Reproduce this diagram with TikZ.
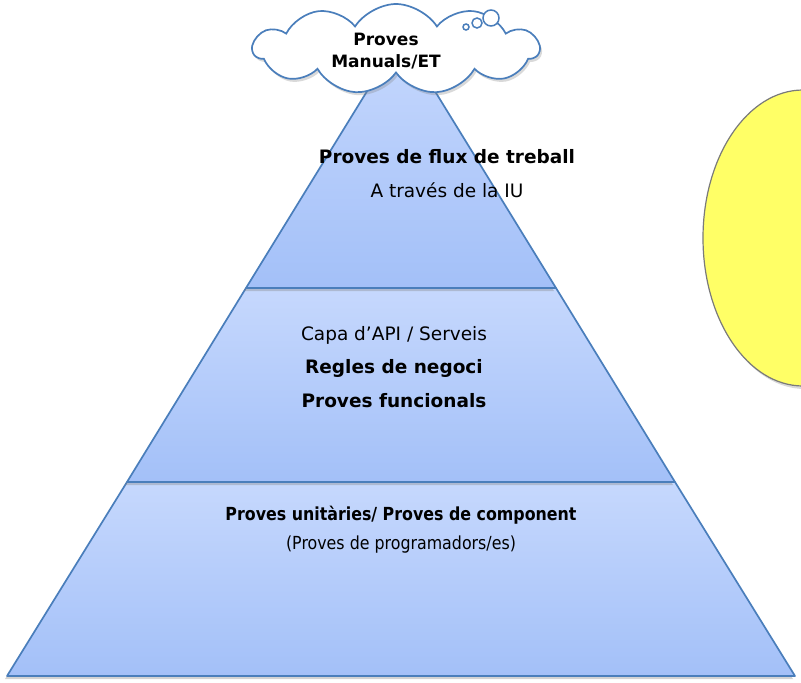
\documentclass[tikz,border=0pt]{standalone}
\usepackage{fontspec}
\setmainfont{DejaVu Sans}
\newfontfamily\condfont[FakeStretch=0.88]{DejaVu Sans}
\usetikzlibrary{shapes.symbols,shadows}
\definecolor{bandedge}{HTML}{4A7EBB}
\definecolor{bandtop}{HTML}{C6D8FD}
\definecolor{bandbot}{HTML}{A3C0F8}
\definecolor{sunfill}{HTML}{FFFF66}
\definecolor{sunedge}{HTML}{7A7A7A}
\tikzset{
  band/.style={draw=bandedge, line width=1.7pt, line join=round, top color=bandtop, bottom color=bandbot,
    drop shadow={opacity=0.35, shadow xshift=-2pt, shadow yshift=-3pt}},
  lbl/.style={anchor=base, inner sep=0pt, font=\fontsize{18.5}{22}\selectfont},
  blbl/.style={lbl, font=\fontsize{18.5}{22}\selectfont\bfseries},
  clbl/.style={anchor=base, inner sep=0pt, font=\condfont\fontsize{18}{22}\selectfont},
  cblbl/.style={clbl, font=\condfont\fontsize{18}{22}\selectfont\bfseries},
  thought/.style={shape=cloud, draw=bandedge, line width=1.7pt, fill=white, cloud puffs=11,
    cloud puff arc=115, aspect=3.2, minimum width=286pt, minimum height=90pt, inner sep=0pt,
    drop shadow={opacity=0.3, shadow xshift=2pt, shadow yshift=-3pt}},
  cltext/.style={anchor=base, inner sep=0pt, font=\fontsize{17}{22}\selectfont\bfseries},
  bubble/.style={draw=bandedge, line width=1.5pt, fill=white, circle, inner sep=0pt},
}
\begin{document}
\begin{tikzpicture}[x=1pt,y=-1pt]
\useasboundingbox (0,0) rectangle (801,683);
% pyramid corners
\coordinate (apex) at (401,36);
\coordinate (l1) at (246,288); \coordinate (r1) at (556,288);
\coordinate (l2) at (127,482); \coordinate (r2) at (675,482);
\coordinate (l3) at (7,676);   \coordinate (r3) at (795,676);
% bands
\path[band] (l2) -- (r2) -- (r3) -- (l3) -- cycle;
\path[band] (l1) -- (r1) -- (r2) -- (l2) -- cycle;
\path[band] (apex) -- (r1) -- (l1) -- cycle;
% yellow ellipse
\path[draw=sunedge, line width=1.2pt, fill=sunfill,
  drop shadow={opacity=0.3, shadow xshift=2pt, shadow yshift=-3pt}] (803,238) ellipse [x radius=100, y radius=148];
% cloud
\node[thought] (cloud) at (396,49) {};
\node[cltext] (c1) at (386,45) {Proves};
\node[cltext] (c2) at (386,67) {Manuals/ET};
\node[bubble, minimum size=6pt] (b1) at (466,27) {};
\node[bubble, minimum size=10pt] (b2) at (477,23) {};
\node[bubble, minimum size=16pt] (b3) at (491,18) {};
% texts
\node[blbl] (t1) at (447,163) {Proves de flux de treball};
\node[lbl]  (t2) at (447,197) {A través de la IU};
\node[lbl]  (m1) at (394,340) {Capa d’API / Serveis};
\node[blbl] (m2) at (394,373) {Regles de negoci};
\node[blbl] (m3) at (394,407) {Proves funcionals};
\node[cblbl] (u1) at (401,520) {Proves unitàries/ Proves de component};
\node[clbl]  (u2) at (401,549) {(Proves de programadors/es)};
\end{tikzpicture}
\end{document}
